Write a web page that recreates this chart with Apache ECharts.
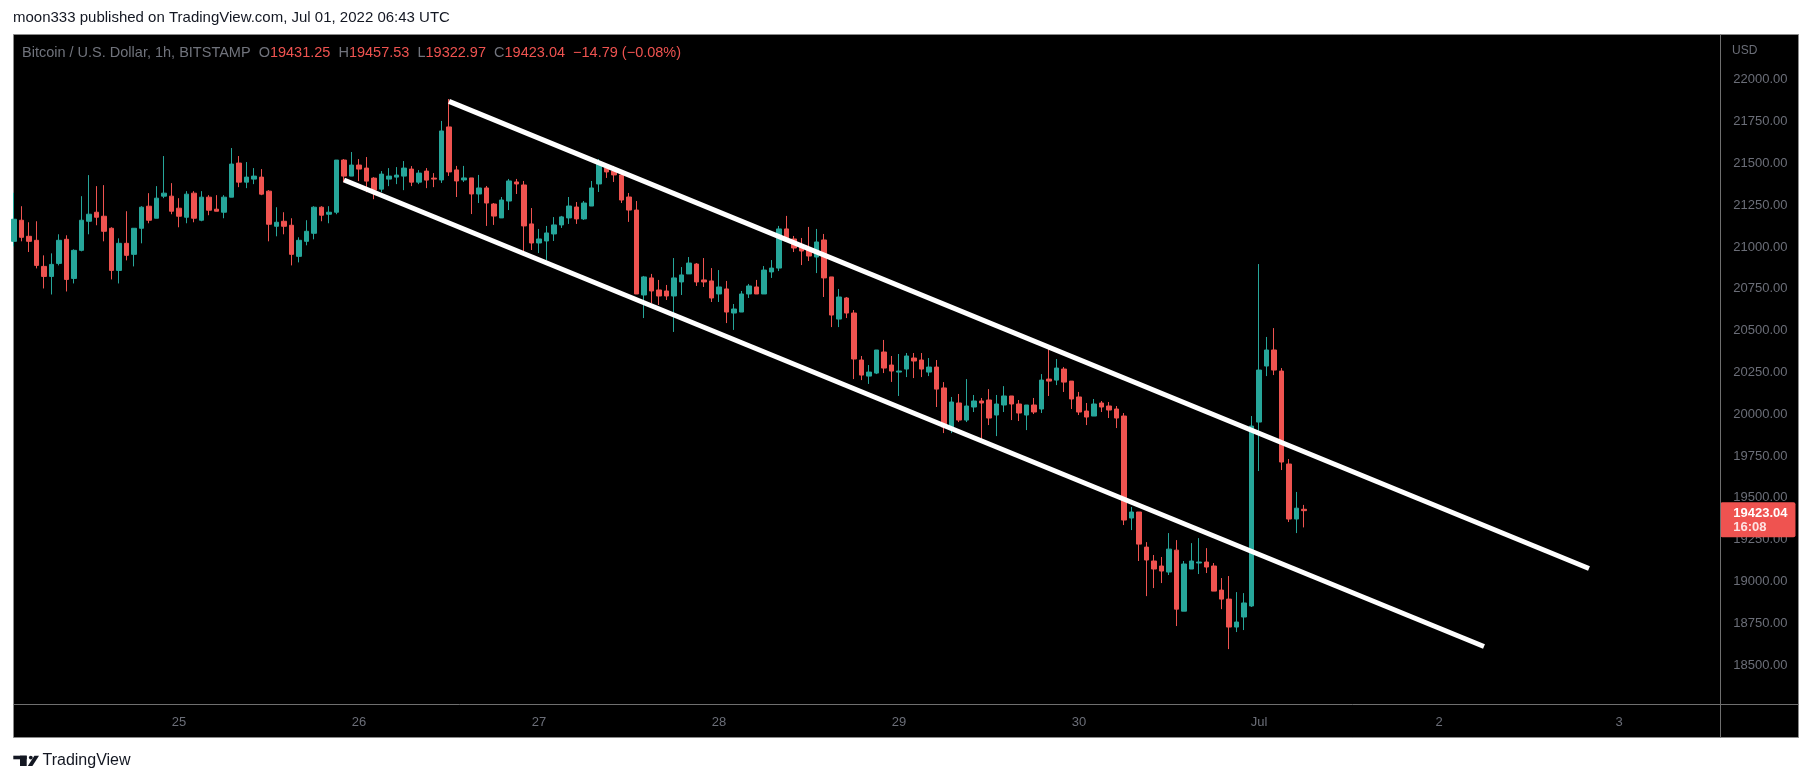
<!DOCTYPE html>
<html>
<head>
<meta charset="utf-8">
<script src="https://cdn.jsdelivr.net/npm/echarts@6/dist/echarts.min.js"></script>
<style>
html,body{margin:0;padding:0;background:#fff;}
#c{width:1813px;height:783px;}
</style>
</head>
<body>
<div id="c"></div>
<script>
// ---- data (1h BTC/USD, first bar 2022-06-24 02:00 UTC) ----
const opens = [21034,21160,21064,21040,20884,20824,20902,21046,20812,20980,21154,21208,21184,21112,20860,21022,20956,21112,21244,21172,21304,21304,21232,21178,21322,21160,21298,21226,21208,21298,21502,21388,21406,21418,21334,21124,21154,21130,20944,21034,21082,21238,21196,21208,21520,21424,21490,21472,21412,21346,21406,21418,21424,21466,21388,21454,21412,21401,21718,21461,21401,21413,21317,21353,21257,21174,21275,21389,21371,21138,21024,21036,21078,21132,21174,21239,21168,21245,21377,21473,21455,21431,21299,21221,20713,20815,20743,20737,20707,20791,20839,20898,20803,20797,20719,20749,20605,20611,20719,20761,20719,20851,20874,21108,21048,21000,20982,20940,21042,20821,20569,20695,20605,20324,20228,20246,20372,20294,20252,20270,20336,20324,20252,20282,20157,19923,20067,19965,20043,20079,20085,19995,20055,20109,20061,19995,20055,20031,20210,20204,20270,20198,20103,20019,19989,20067,20049,20031,19989,19379,19415,19205,19122,19092,19056,19187,18822,19074,19110,19116,19092,18948,18894,18727,18787,18853,19953,20288,20384,20258,19702,19373,19431.25];
const highs = [21324,21244,21148,21154,20950,20962,21076,21070,20986,21304,21430,21364,21370,21118,21052,21214,21112,21244,21322,21364,21544,21382,21292,21334,21334,21334,21310,21310,21310,21592,21544,21508,21472,21466,21340,21238,21208,21172,21058,21160,21244,21244,21244,21520,21526,21568,21526,21538,21418,21454,21472,21478,21514,21484,21460,21472,21442,21754,21885,21485,21485,21413,21431,21365,21263,21299,21407,21407,21395,21233,21108,21126,21179,21186,21299,21269,21275,21395,21526,21485,21485,21443,21323,21275,20827,20839,20803,20773,20934,20880,20940,20904,20934,20874,20862,20797,20659,20737,20779,20803,20886,20922,21126,21186,21066,21054,21120,21108,21078,20821,20749,20701,20623,20348,20294,20384,20444,20348,20360,20366,20366,20366,20336,20324,20192,20103,20121,20210,20115,20097,20150,20115,20168,20109,20085,20055,20097,20240,20402,20330,20282,20198,20133,20067,20091,20079,20073,20049,20007,19445,19415,19235,19158,19146,19289,19247,19122,19229,19259,19199,19110,19020,19032,18936,18930,19989,20898,20462,20515,20276,19732,19535,19457.53];
const lows = [21004,21034,20970,20872,20752,20716,20890,20734,20782,20974,21076,21130,21034,20806,20782,20920,20884,21022,21142,21172,21292,21196,21118,21142,21148,21154,21190,21214,21172,21298,21358,21352,21376,21310,21034,21064,21076,20890,20908,21010,21046,21154,21142,21196,21388,21424,21394,21328,21286,21328,21364,21376,21340,21364,21376,21352,21358,21383,21425,21299,21389,21197,21263,21126,21132,21174,21221,21317,20970,20982,20964,20922,21036,21114,21138,21138,21162,21245,21329,21413,21389,21263,21150,20719,20575,20665,20653,20683,20492,20713,20839,20767,20761,20671,20671,20545,20504,20611,20695,20719,20719,20815,20856,21030,20970,20892,20916,20844,20701,20521,20521,20575,20210,20204,20181,20240,20246,20193,20109,20222,20216,20222,20228,20043,19887,19887,19953,19953,20013,19828,19935,19869,20013,19965,19959,19905,20001,20007,20109,20174,20133,20031,19995,19935,19989,20013,19977,19917,19337,19307,19122,18912,18960,18990,19038,18733,18822,19074,19044,19050,18942,18834,18595,18697,18709,18847,19660,20228,20234,19666,19355,19289,19322.97];
const closes = [21166,21058,21034,20890,20824,20896,21040,20806,20980,21160,21196,21178,21094,20860,21022,20950,21112,21238,21160,21292,21322,21214,21184,21316,21172,21298,21220,21214,21298,21496,21388,21418,21424,21316,21136,21148,21124,20956,21040,21094,21238,21190,21208,21520,21424,21490,21466,21394,21340,21436,21424,21430,21472,21388,21442,21400,21406,21694,21449,21395,21413,21317,21353,21263,21185,21281,21395,21377,21126,21024,21048,21084,21132,21180,21245,21168,21263,21353,21497,21449,21431,21281,21221,20719,20821,20737,20707,20707,20815,20833,20904,20791,20791,20695,20761,20611,20629,20719,20767,20719,20862,20874,21108,21036,20994,20976,20946,21030,20815,20593,20701,20605,20330,20234,20252,20384,20276,20258,20258,20348,20318,20270,20282,20150,19923,20073,19965,20049,20079,20067,19977,20061,20109,20061,20007,20055,20013,20204,20198,20276,20192,20091,20013,19983,20061,20043,20025,19977,19367,19415,19223,19128,19074,19062,19193,18834,19104,19122,19116,19086,18942,18894,18727,18757,18871,19929,20264,20384,20264,19714,19373,19437.83,19423.04];

// channel drawing anchors: [bar index, price]
const upperChannel = [[58, 21871], [210, 19077]];
const lowerChannel = [[44, 21401], [196, 18611]];

// x tick labels (shown at 00:00 of each day)
const tickDays = ['06-25','06-26','06-27','06-28','06-29','06-30','07-01','07-02','07-03'];
const tickLabels = ['25','26','27','28','29','30','Jul','2','3'];

// y ticks
const yMin = 18250, yMax = 22250, yStep = 250;

// ---- categories: hourly slots ----
const slotCount = 228;
const t0 = Date.UTC(2022, 5, 24, 2);
const pad = n => String(n).padStart(2, '0');
const times = [];
for (let i = 0; i < slotCount; i++) {
  const d = new Date(t0 + i * 3600e3);
  times.push(pad(d.getUTCMonth() + 1) + '-' + pad(d.getUTCDate()) + ' ' + pad(d.getUTCHours()) + ':00');
}
const candles = opens.map((o, i) => [o, closes[i], lows[i], highs[i]]);
const n = closes.length;
const lastO = opens[n-1], lastH = highs[n-1], lastL = lows[n-1], lastC = closes[n-1];
const chg = lastC - closes[n-2];
const chgPct = chg / closes[n-2] * 100;
const fmtSigned = v => (v < 0 ? '\u2212' : '+') + Math.abs(v).toFixed(2);

const FONT = '"Liberation Sans", Arial, sans-serif';
const UP = '#26a69a', DOWN = '#ef5350';
const AXIS_TXT = '#6b6e78';
const FRAME = '#6f6f6f';
const LEG = '14.5px ' + FONT;

const chart = echarts.init(document.getElementById('c'), null, {renderer: 'canvas'});
chart.setOption({
  backgroundColor: '#ffffff',
  animation: false,
  textStyle: {fontFamily: FONT},
  grid: {left: 10.25, top: 38.0, width: 1710, height: 668.8, containLabel: false},
  xAxis: {
    type: 'category',
    data: times,
    boundaryGap: true,
    axisLine: {show: false},
    axisTick: {show: false},
    splitLine: {show: false},
    axisLabel: {
      color: AXIS_TXT,
      fontSize: 13,
      fontFamily: FONT,
      margin: 9,
      interval: (idx, val) => val.endsWith(' 00:00') && tickDays.indexOf(val.slice(0, 5)) >= 0,
      formatter: val => {
        const k = tickDays.indexOf(val.slice(0, 5));
        return k >= 0 ? tickLabels[k] : '';
      }
    }
  },
  yAxis: {
    type: 'value',
    position: 'right',
    min: yMin, max: yMax, interval: yStep,
    axisLine: {show: false},
    axisTick: {show: false},
    splitLine: {show: false},
    axisLabel: {
      color: AXIS_TXT,
      fontSize: 13,
      fontFamily: FONT,
      align: 'left',
      margin: 13,
      showMinLabel: false,
      showMaxLabel: false,
      formatter: v => v.toFixed(2)
    }
  },
  series: [
    {
      type: 'candlestick',
      data: candles,
      barWidth: 5,
      z: 2,
      itemStyle: {
        color: UP, color0: DOWN,
        borderColor: UP, borderColor0: DOWN,
        borderWidth: 1
      },
      markLine: {
        silent: true,
        symbol: 'none',
        animation: false,
        lineStyle: {color: 'rgba(0,0,0,0)', width: 0},
        label: {
          show: true,
          position: 'end',
          distance: 0,
          offset: [0, 9],
          backgroundColor: DOWN,
          borderRadius: 2,
          padding: [4, 8, 3, 13],
          formatter: () => '{p|' + lastC.toFixed(2) + '}\n{t|16:08}',
          rich: {
            p: {color: '#ffffff', fontWeight: 'bold', fontSize: 13, lineHeight: 14, fontFamily: FONT},
            t: {color: '#fde2e2', fontWeight: 'bold', fontSize: 13, lineHeight: 14, fontFamily: FONT}
          }
        },
        data: [{yAxis: lastC}]
      }
    },
    {
      type: 'line',
      data: upperChannel.map(p => [times[p[0]], p[1]]),
      symbol: 'none',
      z: 4,
      lineStyle: {color: '#ffffff', width: 5},
      silent: true
    },
    {
      type: 'line',
      data: lowerChannel.map(p => [times[p[0]], p[1]]),
      symbol: 'none',
      z: 4,
      lineStyle: {color: '#ffffff', width: 5},
      silent: true
    }
  ],
  graphic: [
    {type: 'rect', z: -10, silent: true, shape: {x: 13.5, y: 34.5, width: 1785, height: 703}, style: {fill: '#000000', stroke: '#8a8a8a', lineWidth: 1}},
    {type: 'line', z: 10, silent: true, shape: {x1: 1720.5, y1: 34.5, x2: 1720.5, y2: 737.5}, style: {stroke: FRAME, lineWidth: 1}},
    {type: 'line', z: 10, silent: true, shape: {x1: 13.5, y1: 704.5, x2: 1798.5, y2: 704.5}, style: {stroke: FRAME, lineWidth: 1}},
    {type: 'text', z: 10, silent: true, x: 13, y: 18, style: {text: 'moon333 published on TradingView.com, Jul 01, 2022 06:43 UTC', font: '15px ' + FONT, fill: '#131722', verticalAlign: 'middle'}},
    {type: 'text', z: 10, silent: true, x: 1732, y: 51, style: {text: 'USD', font: '12px ' + FONT, fill: AXIS_TXT, verticalAlign: 'middle'}},
    {type: 'text', z: 10, silent: true, x: 22, y: 53, style: {
      text: '{g|Bitcoin / U.S. Dollar, 1h, BITSTAMP}  {g|O}{r|' + lastO.toFixed(2) + '}  {g|H}{r|' + lastH.toFixed(2) + '}  {g|L}{r|' + lastL.toFixed(2) + '}  {g|C}{r|' + lastC.toFixed(2) + '}  {r|' + fmtSigned(chg) + ' (' + fmtSigned(chgPct) + '%)}',
      font: LEG, verticalAlign: 'middle',
      rich: {g: {fill: '#70737c', font: LEG}, r: {fill: DOWN, font: LEG}}
    }},
    // TradingView logo
    {type: 'rect', z: 10, silent: true, shape: {x: 13.3, y: 755.7, width: 13.4, height: 3.6}, style: {fill: '#131722'}},
    {type: 'rect', z: 10, silent: true, shape: {x: 20, y: 755.7, width: 6.7, height: 10.3}, style: {fill: '#131722'}},
    {type: 'circle', z: 10, silent: true, shape: {cx: 30.8, cy: 757.6, r: 1.9}, style: {fill: '#131722'}},
    {type: 'polygon', z: 10, silent: true, shape: {points: [[34.4, 755.7], [39, 755.7], [32.4, 766], [27.8, 766]]}, style: {fill: '#131722'}},
    {type: 'text', z: 10, silent: true, x: 42.5, y: 761, style: {text: 'TradingView', font: '16px ' + FONT, fill: '#131722', verticalAlign: 'middle'}}
  ]
});
</script>
</body>
</html>
